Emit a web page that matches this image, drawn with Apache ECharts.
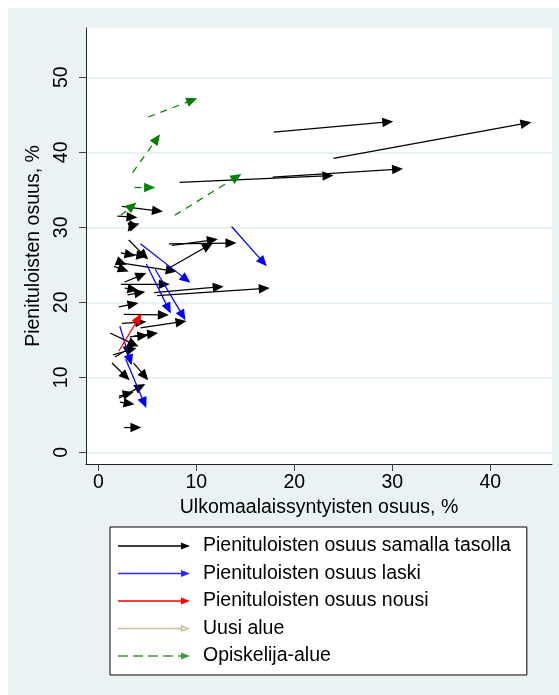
<!DOCTYPE html>
<html>
<head>
<meta charset="utf-8">
<script src="https://cdn.jsdelivr.net/npm/echarts@6/dist/echarts.min.js"></script>
<style>
html,body{margin:0;padding:0;background:#fff;}
#chart{width:559px;height:695px;}
</style>
</head>
<body>
<div id="chart"></div>
<script>
// Each arrow: [x_start, y_start, x_end, y_end]  (x = Ulkomaalaissyntyisten osuus %, y = Pienituloisten osuus %)
const sameLevel = [
  [17.9,42.7,30.1,44.1],
  [24.0,39.2,44.2,44.0],
  [8.3,36.0,24.0,36.9],
  [17.8,36.7,31.1,37.8],
  [2.4,32.8,6.6,32.1],
  [1.95,31.5,4.0,31.3],
  [3.5,30.2,4.2,30.5],
  [3.3,30.0,3.0,29.4],
  [7.2,27.8,14.1,27.9],
  [7.0,24.4,11.7,27.9],
  [7.5,27.6,12.2,28.4],
  [3.1,28.3,5.1,25.7],
  [2.3,26.6,3.8,26.2],
  [2.8,26.5,5.0,26.1],
  [1.9,25.5,2.9,25.0],
  [1.6,24.8,3.1,24.1],
  [2.6,25.2,8.0,24.1],
  [2.7,22.7,4.9,23.9],
  [2.3,22.4,7.3,22.4],
  [2.7,21.9,4.1,21.6],
  [3.0,21.0,4.8,21.4],
  [5.7,21.3,12.8,22.1],
  [6.0,20.9,17.5,21.9],
  [2.1,19.4,4.1,19.9],
  [2.6,18.4,7.2,18.3],
  [2.4,17.2,4.9,17.4],
  [4.3,16.6,9.0,17.5],
  [3.2,15.4,5.1,15.6],
  [3.6,15.5,6.1,15.9],
  [1.2,15.9,4.1,14.1],
  [1.5,13.0,3.9,13.9],
  [1.7,12.7,3.7,14.3],
  [1.4,11.9,3.2,9.6],
  [3.6,11.9,5.1,9.6],
  [2.1,7.5,3.6,8.0],
  [2.1,7.2,4.8,9.1],
  [2.2,6.7,3.7,6.4],
  [2.65,3.3,4.4,3.3]
];
const decreased = [
  [13.6,30.1,17.2,24.8],
  [4.3,27.8,9.4,22.6],
  [4.9,25.1,7.4,18.5],
  [5.8,24.4,8.9,17.6],
  [2.2,16.8,3.4,11.6],
  [2.8,12.4,4.9,5.9]
];
const increased = [
  [2.1,13.5,4.4,18.5]
];
const newArea = [];
const studentArea = [
  [5.1,44.7,10.1,47.2],
  [3.5,37.3,6.3,42.4],
  [3.7,35.3,5.8,35.3],
  [7.8,31.6,14.6,37.1],
  [2.3,31.6,3.9,33.3]
];
const xTicks = [0,10,20,30,40];
const yTicks = [0,10,20,30,40,50];
const seriesNames = [
  'Pienituloisten osuus samalla tasolla',
  'Pienituloisten osuus laski',
  'Pienituloisten osuus nousi',
  'Uusi alue',
  'Opiskelija-alue'
];

const FONT = '"Liberation Sans", Arial, sans-serif';
const FS = 19.5;

function arrowRenderer(color, dash) {
  return function (params, api) {
    const p1 = api.coord([api.value(0), api.value(1)]);
    const p2 = api.coord([api.value(2), api.value(3)]);
    const dx = p2[0] - p1[0], dy = p2[1] - p1[1];
    const len = Math.hypot(dx, dy) || 1;
    const ux = dx / len, uy = dy / len;
    const L = 11, W = 4.8;
    const bx = p2[0] - ux * L, by = p2[1] - uy * L;
    const head = [[p2[0], p2[1]], [bx - uy * W, by + ux * W], [bx + uy * W, by - ux * W]];
    return {
      type: 'group',
      children: [
        {type: 'line', shape: {x1: p1[0], y1: p1[1], x2: bx + ux * 3, y2: by + uy * 3},
         style: {stroke: color, lineWidth: 1.25, lineDash: dash || null}},
        {type: 'polygon', shape: {points: head}, style: {fill: color}}
      ]
    };
  };
}

function arrowSeries(name, data, color, dash) {
  return {
    name: name,
    type: 'custom',
    renderItem: arrowRenderer(color, dash),
    data: data,
    encode: {x: [0, 2], y: [1, 3]},
    itemStyle: {color: color, borderWidth: 0},
    clip: true,
    silent: true
  };
}

const solidIcon = 'path://M0,2.7L64,2.7L64,4.3L0,4.3Z M63,0L72,3.5L63,7Z';
const dashIcon = 'path://M0,2.7h10v1.6h-10Z M15,2.7h10v1.6h-10Z M30,2.7h10v1.6h-10Z M45,2.7h10v1.6h-10Z M60,2.7h4v1.6h-4Z M63,0L72,3.5L63,7Z';
const hollowIcon = 'path://M0,2.7L64,2.7L64,4.3L0,4.3Z M63,0L72,3.5L63,7Z M64.5,2.2L64.5,4.8L68.5,3.5Z';

function legendItem(name, icon, color) {
  return {name: name, icon: icon,
          itemStyle: {color: color, borderColor: color, borderWidth: 0, opacity: 1}};
}

const chart = echarts.init(document.getElementById('chart'), null, {renderer: 'canvas'});
chart.setOption({
  backgroundColor: '#ffffff',
  animation: false,
  textStyle: {fontFamily: FONT},
  graphic: [{
    type: 'rect', left: 8, top: 8, z: -10,
    shape: {width: 551, height: 687},
    style: {fill: '#eaf2f3'}
  }],
  grid: {
    left: 86, top: 28, width: 466, height: 436,
    show: true, backgroundColor: '#ffffff', borderWidth: 0
  },
  xAxis: {
    type: 'value', min: -1.255, max: 46.3,
    name: 'Ulkomaalaissyntyisten osuus, %',
    nameLocation: 'middle', nameGap: 31,
    nameTextStyle: {fontSize: FS, color: '#000', fontFamily: FONT},
    axisLine: {show: true, onZero: false, lineStyle: {color: '#222', width: 1}},
    axisTick: {show: true, length: 7, customValues: xTicks, lineStyle: {color: '#444', width: 1}},
    axisLabel: {customValues: xTicks, fontSize: FS, color: '#000', margin: 9, fontFamily: FONT},
    splitLine: {show: false}
  },
  yAxis: {
    type: 'value', min: -1.56, max: 56.57,
    name: 'Pienituloisten osuus, %',
    nameLocation: 'middle', nameGap: 33, nameRotate: 90,
    nameTextStyle: {fontSize: FS, color: '#000', fontFamily: FONT},
    axisLine: {show: true, onZero: false, lineStyle: {color: '#222', width: 1}},
    axisTick: {show: true, length: 7, customValues: yTicks, lineStyle: {color: '#444', width: 1}},
    axisLabel: {customValues: yTicks, fontSize: FS, color: '#000', margin: 14, rotate: 90, fontFamily: FONT},
    splitLine: {show: true, lineStyle: {color: '#e1eef0', width: 1.5}}
  },
  legend: {
    orient: 'vertical', left: 110, top: 527,
    padding: [8, 16, 8, 8], itemGap: 5.5,
    itemWidth: 72, itemHeight: 7,
    backgroundColor: '#ffffff', borderColor: '#000', borderWidth: 1, borderRadius: 0,
    selectedMode: false,
    textStyle: {fontSize: FS, color: '#000', fontFamily: FONT, padding: [0, 0, 0, 8], lineHeight: 22},
    data: [
      legendItem(seriesNames[0], solidIcon, '#000000'),
      legendItem(seriesNames[1], solidIcon, '#2a2aff'),
      legendItem(seriesNames[2], solidIcon, '#ff0000'),
      legendItem(seriesNames[3], hollowIcon, '#cbbd92'),
      legendItem(seriesNames[4], dashIcon, '#3c9a3c')
    ]
  },
  series: [
    arrowSeries(seriesNames[0], sameLevel, '#000000'),
    arrowSeries(seriesNames[1], decreased, '#0000ff'),
    arrowSeries(seriesNames[2], increased, '#ff0000'),
    arrowSeries(seriesNames[3], newArea, '#e8dcbc'),
    arrowSeries(seriesNames[4], studentArea, '#008000', [7, 6])
  ]
});
</script>
</body>
</html>
